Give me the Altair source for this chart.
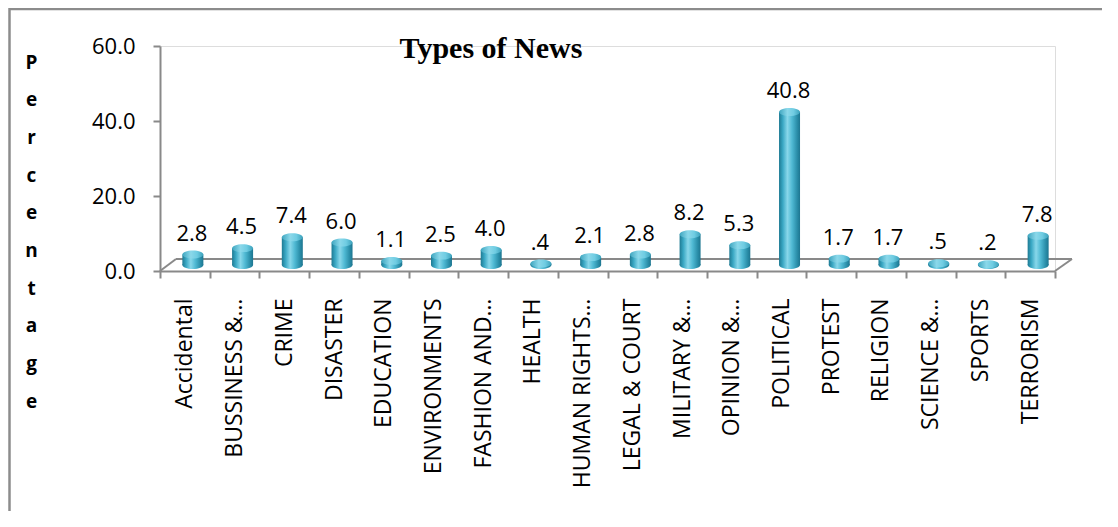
import altair as alt
import pandas as pd

categories = ["Accidental", "BUSSINESS &…", "CRIME", "DISASTER", "EDUCATION",
              "ENVIRONMENTS", "FASHION AND…", "HEALTH", "HUMAN RIGHTS…",
              "LEGAL & COURT", "MILITARY &…", "OPINION &…", "POLITICAL",
              "PROTEST", "RELIGION", "SCIENCE &…", "SPORTS", "TERRORISM"]
values = [2.8, 4.5, 7.4, 6.0, 1.1, 2.5, 4.0, 0.4, 2.1, 2.8, 8.2, 5.3, 40.8,
          1.7, 1.7, 0.5, 0.2, 7.8]
y_ticks = [0, 20, 40, 60]
title_text = "Types of News"
y_title = "Percentage"

df = pd.DataFrame({"cat": categories, "val": values})
df["label"] = [("%.1f" % v)[1:] if v < 1 else "%.1f" % v for v in values]
deco = pd.DataFrame({"k": [0]})

GRAY = "#898989"
FONT = "Open Sans"
ELLIPSE = "M-1,0A1,0.38,0,1,1,1,0A1,0.38,0,1,1,-1,0Z"
BW = 21
XO = 8
YO = -6

side = alt.Gradient(gradient="linear", x1=0, x2=1, y1=0, y2=0, stops=[
    alt.GradientStop(color="#1e7a93", offset=0),
    alt.GradientStop(color="#3aa8c4", offset=0.18),
    alt.GradientStop(color="#88d7ea", offset=0.40),
    alt.GradientStop(color="#4fb9d3", offset=0.62),
    alt.GradientStop(color="#2a8ea9", offset=0.86),
    alt.GradientStop(color="#1d7690", offset=1)])
cap = alt.Gradient(gradient="linear", x1=0, x2=1, y1=0, y2=0, stops=[
    alt.GradientStop(color="#3da5bf", offset=0),
    alt.GradientStop(color="#8bd8ea", offset=0.4),
    alt.GradientStop(color="#6fcce2", offset=0.7),
    alt.GradientStop(color="#3ba1bb", offset=1)])

x_enc = alt.X("cat:N", sort=categories,
              scale=alt.Scale(paddingInner=0, paddingOuter=0),
              axis=alt.Axis(title=None, labelAngle=270, labelFont=FONT,
                            labelFontSize=23, labelColor="black",
                            labelPadding=20, labelLimit=300,
                            tickBand="extent", tickSize=7, tickWidth=2,
                            tickColor=GRAY, domainColor=GRAY, domainWidth=2))
y_enc = alt.Y("val:Q", scale=alt.Scale(domain=[0, 60]),
              axis=alt.Axis(values=y_ticks, format=".1f", grid=False,
                            labelFont=FONT, labelFontSize=22,
                            labelColor="black", labelPadding=18,
                            tickSize=7, tickWidth=2, tickColor=GRAY,
                            domainColor=GRAY, domainWidth=2,
                            title=list(y_title), titleAngle=0,
                            titleFont=FONT, titleFontWeight="bold",
                            titleFontSize=19, titleColor="black",
                            titleLineHeight=37.7, titleX=-129, titleY=22,
                            titleAlign="center", titleBaseline="alphabetic"))

base = alt.Chart(df)

bottom_caps = base.mark_point(shape=ELLIPSE, size=BW * BW, filled=True,
                              fill=side, opacity=1, strokeWidth=0,
                              xOffset=XO, yOffset=YO).encode(
    x=x_enc, y=alt.datum(0))
bars = base.mark_bar(size=BW, fill=side, xOffset=XO, yOffset=YO,
                     y2Offset=YO).encode(x=x_enc, y=y_enc)
top_caps = base.mark_point(shape=ELLIPSE, size=BW * BW, filled=True,
                           fill=cap, opacity=1, strokeWidth=0,
                           xOffset=XO, yOffset=YO).encode(x=x_enc, y="val:Q")
labels = base.mark_text(font=FONT, fontSize=22, color="black",
                        baseline="alphabetic", xOffset=XO - 1,
                        yOffset=-20).encode(x=x_enc, y="val:Q", text="label:N")


def line(x1, x2, y1, y2, w=2, color=GRAY):
    return alt.Chart(deco).mark_rule(color=color, strokeWidth=w).encode(
        x=alt.value(x1), x2=alt.value(x2), y=alt.value(y1), y2=alt.value(y2))


W, H = 895, 225
floor = [line(16, W + 17, H - 12, H - 12),
         line(0, 16, H, H - 12),
         line(W, W + 17, H, H - 12)]
border = [line(-150.5, W + 47, -37, -37, 2.5, "#8c8c8c"),
          line(-150.5, -150.5, -38, 465, 2.5, "#8c8c8c")]

title = alt.Chart(deco).mark_text(
    font="Liberation Serif", fontSize=30, fontWeight="bold", color="black",
    align="center", baseline="alphabetic").encode(
    x=alt.value(331), y=alt.value(12), text=alt.value(title_text))

chart = alt.layer(*floor, bottom_caps, bars, top_caps, labels, title,
                  *border).properties(
    width=W, height=H,
    padding={"left": 152, "top": 38, "right": 47, "bottom": 240},
    autosize=alt.AutoSizeParams(type="none"),
).configure_view(stroke=None).configure(background="white")

chart.save("out.html", embed_options={"renderer": "svg", "actions": False})
